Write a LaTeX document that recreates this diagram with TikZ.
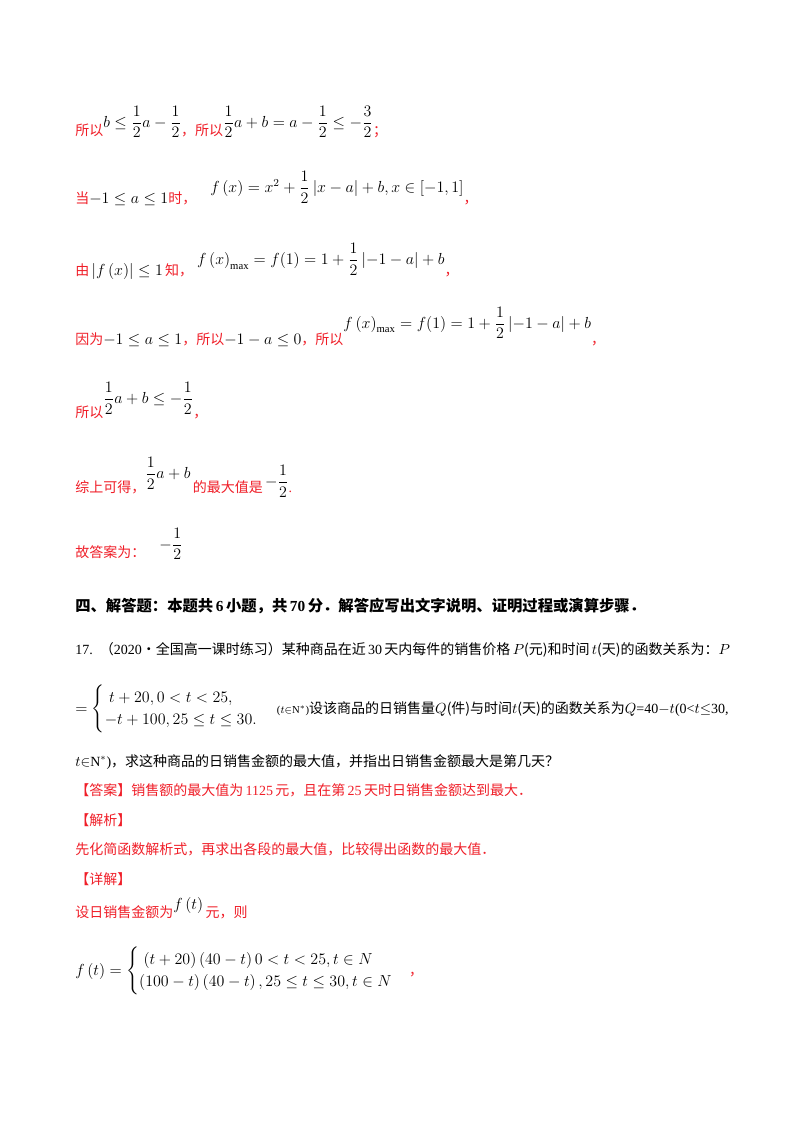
\documentclass[tikz,border=0pt]{standalone}
\usepackage{amsmath,amssymb}
\usepackage{fontspec}
\setmainfont{Liberation Serif}
\newfontfamily\cjk{Noto Sans CJK SC}
\definecolor{ans}{RGB}{240,30,40}
\tikzset{ln/.style={anchor=base west,inner sep=0pt,font=\fontsize{10.5}{12}\selectfont},
 rl/.style={ln,text=ans}}
\newcommand{\mb}[1]{\textcolor{black}{\fontsize{12}{14}\selectfont$#1$}}
\begin{document}
\begin{tikzpicture}[x=0.75pt,y=-0.75pt]
\fill[white] (0,0) rectangle (800,1132);
\useasboundingbox (0,0) rectangle (800,1132);
\node[rl] (l1) at (75,135) {{\cjk 所以}\raisebox{6pt}{\mb{b\le\dfrac12a-\dfrac12}}{\cjk ，所以}\raisebox{6pt}{\mb{\dfrac12a+b=a-\dfrac12\le-\dfrac32}}{\cjk ；}};
\node[rl] (l2) at (75,203) {{\cjk 当}\mb{-1\le a\le 1}{\cjk 时，}\quad\raisebox{8pt}{\mb{f\left(x\right)=x^2+\dfrac12\left|x-a\right|+b,x\in[-1,1]}}{\cjk ，}};
\node[rl] (l3) at (75,275) {{\cjk 由}\,\mb{\left|f\left(x\right)\right|\le1}\,{\cjk 知，}\;\raisebox{8pt}{\mb{f\left(x\right)_{\max}=f(1)=1+\dfrac12\left|-1-a\right|+b}}{\cjk ，}};
\node[rl] (l4) at (75,344) {{\cjk 因为}\mb{-1\le a\le 1}{\cjk ，所以}\mb{-1-a\le0}{\cjk ，所以}\raisebox{12pt}{\mb{f\left(x\right)_{\max}=f(1)=1+\dfrac12\left|-1-a\right|+b}}{\cjk ，}};
\node[rl] (l5) at (75,417) {{\cjk 所以}\raisebox{10pt}{\mb{\dfrac12a+b\le-\dfrac12}}{\cjk ，}};
\node[rl] (l6) at (75,492) {{\cjk 综上可得，}\raisebox{10pt}{\mb{\dfrac12a+b}}\,{\cjk 的最大值是}\,\raisebox{4pt}{\mb{-\dfrac12}}.};
\node[rl] (l7) at (75,557) {{\cjk 故答案为：}\quad\raisebox{6pt}{\mb{-\dfrac12}}};
\node[ln,font=\fontsize{11.5}{13}\selectfont\bfseries] (h) at (75,611) {{\cjk\bfseries 四、解答题：本题共}\,6\,{\cjk\bfseries 小题，共}\,70\,{\cjk\bfseries 分．解答应写出文字说明、证明过程或演算步骤．}};
\node[ln] (q1) at (75,654) {17.\ \ {\cjk （}2020{\cjk ·全国高一课时练习）某种商品在近}\,30\,{\cjk 天内每件的销售价格}\,$P${\cjk (元)和时间}\,$t${\cjk (天)的函数关系为：}$P$};
\node[ln] (q2) at (75,713) {\fontsize{12}{14}\selectfont$=\begin{cases}\;t+20,0<t<25,\\-t+100,25\le t\le30.\end{cases}$\,{\footnotesize($t$$\in$N$^*$)}{\fontsize{10.5}{12}\selectfont\cjk 设该商品的日销售量}{\fontsize{10.5}{12}\selectfont$Q${\cjk (件)与时间}$t${\cjk (天)的函数关系为}$Q$=40$-t$(0<$t$$\le$30,}};
\node[ln] (q3) at (75,766) {$t$$\in$N$^*$){\cjk ，求这种商品的日销售金额的最大值，并指出日销售金额最大是第几天？}};
\node[rl] (a1) at (75,795) {{\cjk 【答案】销售额的最大值为}\,1125\,{\cjk 元，且在第}\,25\,{\cjk 天时日销售金额达到最大．}};
\node[rl] (a2) at (75,825) {\cjk 【解析】};
\node[rl] (a3) at (75,854) {\cjk 先化简函数解析式，再求出各段的最大值，比较得出函数的最大值．};
\node[rl] (a4) at (75,884) {\cjk 【详解】};
\node[rl] (a5) at (75,917) {{\cjk 设日销售金额为}\raisebox{6pt}{\mb{f\left(t\right)}}\,{\cjk 元，则}};
\node[rl] (a6) at (75,975) {\mb{f\left(t\right)=\begin{cases}\;\left(t+20\right)\left(40-t\right)0<t<25,t\in N\\\left(100-t\right)\left(40-t\right),25\le t\le30,t\in N\end{cases}}{\cjk ，}};
\end{tikzpicture}
\end{document}
